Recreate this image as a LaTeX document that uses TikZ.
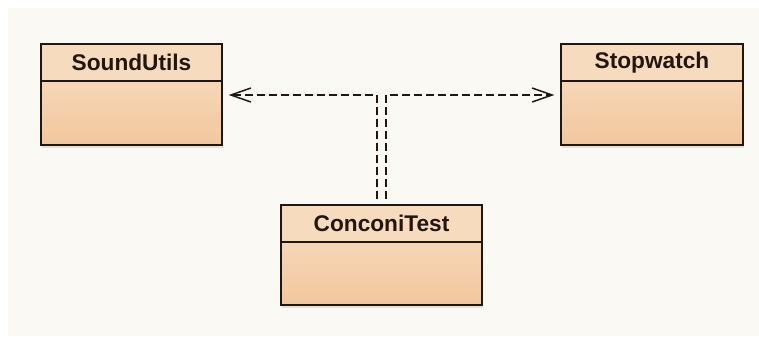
\documentclass[tikz,border=0pt]{standalone}
\usepackage{fontspec}
\setmainfont{Liberation Sans}
\usetikzlibrary{positioning,arrows.meta,shadows}

\definecolor{bgpaper}{HTML}{FAF9F3}
\definecolor{headfill}{HTML}{F7DBBF}
\definecolor{bodytop}{HTML}{F8DFC6}
\definecolor{bodybot}{HTML}{F2C79E}
\definecolor{inkdark}{HTML}{22160F}

\tikzset{
    classhead/.style = {draw = inkdark, line width = 1.4pt, fill = headfill, outer sep = 0pt,
        minimum height = 27.75pt, inner sep = 0pt, font = \bfseries\fontsize{17}{20}\selectfont, text = inkdark},
    classbody/.style = {draw = inkdark, line width = 1.4pt, top color = bodytop, bottom color = bodybot,
        outer sep = 0pt, inner sep = 0pt, minimum height = 48pt,
        drop shadow = {opacity = 0.18, shadow xshift = 1pt, shadow yshift = -2pt}},
    dep/.style = {line width = 1.1pt, inkdark, dash pattern = on 6pt off 3pt,
        -{Straight Barb[length = 15pt, width = 10.5pt, line width = 1.1pt]}, shorten > = 5pt},
}

\begin{document}
\begin{tikzpicture}[x = 0.75pt, y = -0.75pt]
    \useasboundingbox (0, 0) rectangle (759, 336);
    \fill [white] (0, 0) rectangle (759, 336);
    \fill [bgpaper] (8, 8) rectangle (759, 336);

    %%%%%%%%%% classes %%%%%%%%%%%%%%%%%%%
    \node [classbody, minimum width = 135.75pt, minimum height = 75.75pt, anchor = north] (suB) at (131.5, 44) {};
    \node [classhead, minimum width = 135.75pt, below = 0pt of suB.north] (su) {SoundUtils};

    \node [classbody, minimum width = 136.5pt, minimum height = 75.75pt, anchor = north] (swB) at (652, 44) {};
    \node [classhead, minimum width = 136.5pt, below = 0pt of swB.north] (sw) {Stopwatch};

    \node [classbody, minimum width = 150.75pt, minimum height = 75pt, anchor = north] (ctB) at (381.5, 205) {};
    \node [classhead, minimum width = 150.75pt, below = 0pt of ctB.north] (ct) {ConconiTest};

    %%%%%%%%%% dependencies %%%%%%%%%%%%%%
    \coordinate (ctL) at ([xshift = -3.4pt, yshift = 4.5pt] ct.north);
    \coordinate (ctR) at ([xshift = 3.4pt, yshift = 4.5pt] ct.north);
    \coordinate (suIn) at ([yshift = -38.25pt] suB.north east);
    \coordinate (swIn) at ([yshift = -38.25pt] swB.north west);

    \draw [dep] (ctL) |- (suIn);
    \draw [dep] (ctR) |- (swIn);
\end{tikzpicture}
\end{document}
